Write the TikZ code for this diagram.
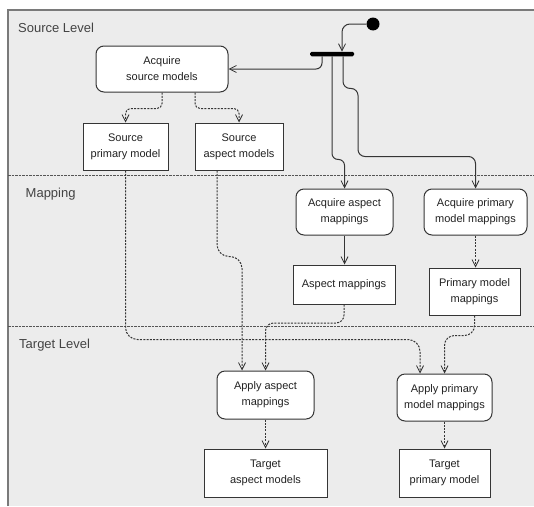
\documentclass[tikz,border=0pt]{standalone}
\usepackage{fontspec}
\setmainfont{Liberation Sans}
\usetikzlibrary{arrows.meta,calc}

\definecolor{lanebg}{HTML}{ECECEC}
\definecolor{frameline}{HTML}{7A7A7A}
\definecolor{inkline}{HTML}{353535}
\definecolor{inktext}{HTML}{222222}
\definecolor{sepline}{HTML}{555555}

\tikzset{
  base/.style={draw=inkline, line width=1pt, fill=white, align=center,
    text=inktext, inner sep=2pt, font=\fontsize{11}{16}\selectfont},
  action/.style={base, rounded corners=8pt},
  objbox/.style={base},
  lanelabel/.style={anchor=west, text=inktext!85, inner sep=0pt,
    font=\fontsize{13}{15}\selectfont},
  separator/.style={draw=sepline, line width=1pt, dash pattern=on 2.5pt off 1pt},
  tip/.style={-{Straight Barb[length=7pt,width=7pt,line width=0.8pt]}},
  ctrl/.style={tip, draw=inkline, line width=1pt},
  objflow/.style={tip, draw=inkline, line width=1pt, dash pattern=on 2pt off 1.3pt},
}

\begin{document}
\begin{tikzpicture}[x=1pt,y=-1pt]
  % page area
  \useasboundingbox (0,0) rectangle (534,506);
  \fill[white] (0,0) rectangle (534,506);

  % swimlane frame
  \fill[lanebg] (8,10) rectangle (534,506);
  \draw[frameline, line width=1.3pt] (8,506) -- (8,10) -- (534,10);

  % lane separators
  \draw[separator] (8,175) -- (534,175);
  \draw[separator] (8,326) -- (534,326);

  % lane titles
  \node[lanelabel] (laneSrc) at (18,27.5) {Source Level};
  \node[lanelabel] (laneMap) at (25.5,194) {Mapping};
  \node[lanelabel] (laneTgt) at (19,345.5) {Target Level};

  % start node and fork bar
  \node[circle, fill=black, minimum size=13pt, inner sep=0pt] (init) at (373,24) {};
  \node[rectangle, fill=black, minimum width=44pt, minimum height=4.5pt,
        inner sep=0pt, rounded corners=1.5pt] (fork) at (332,54) {};

  % source level
  \node[action, minimum width=132pt, minimum height=46pt] (acqsrc) at (162,69)
    {Acquire\\source models};
  \node[objbox, minimum width=85pt, minimum height=47pt] (srcpri) at (125.5,146.5)
    {Source\\primary model};
  \node[objbox, minimum width=88pt, minimum height=47pt] (srcasp) at (239,146.5)
    {Source\\aspect models};

  % mapping level
  \node[action, minimum width=97pt, minimum height=46pt] (acqasp) at (344.5,212)
    {Acquire aspect\\mappings};
  \node[action, minimum width=103pt, minimum height=46pt] (acqpri) at (475.5,212)
    {Acquire primary\\model mappings};
  \node[objbox, minimum width=102pt, minimum height=39pt] (aspmap) at (344,284.5)
    {Aspect mappings};
  \node[objbox, minimum width=91pt, minimum height=47pt] (primap) at (474.5,291.5)
    {Primary model\\mappings};

  % target level
  \node[action, minimum width=97pt, minimum height=48pt] (applyasp) at (265.5,395)
    {Apply aspect\\mappings};
  \node[action, minimum width=95pt, minimum height=47pt] (applypri) at (444.5,397.5)
    {Apply primary\\model mappings};
  \node[objbox, minimum width=123pt, minimum height=48pt] (tgtasp) at (265.5,473)
    {Target\\aspect models};
  \node[objbox, minimum width=91pt, minimum height=48pt] (tgtpri) at (444.5,473)
    {Target\\primary model};

  % control flow from the start node through the fork
  \draw[ctrl, rounded corners=8pt] (init.west) -| ($(fork.north)+(10,0)$);
  \draw[ctrl, rounded corners=6pt] ($(fork.south)+(-10,0)$) |- (acqsrc.east);
  \draw[ctrl, rounded corners=6pt] (fork.south) -- ++(0,103) -| (acqasp.north);
  \draw[ctrl, rounded corners=7pt] ($(fork.south)+(11,0)$) -- ++(0,32)
      -- ++(15,0) |- ($(acqpri.north)+(0,-32)$) -- (acqpri.north);

  % acquiring source models
  \draw[objflow, rounded corners=5pt] (acqsrc.south) -- ++(0,16) -| (srcpri.north);
  \draw[objflow, rounded corners=5pt] ($(acqsrc.south)+(33,0)$) -- ++(0,16) -| (srcasp.north);

  % acquiring mappings
  \draw[ctrl] (acqasp.south) -- (acqasp.south |- aspmap.north);
  \draw[objflow] (acqpri.south) -- (acqpri.south |- primap.north);

  % inputs of the apply steps
  \draw[objflow, rounded corners=12pt] (srcpri.south)
      |- ($(applypri.north)+(-24.5,-34)$) -- ($(applypri.north)+(-24.5,0)$);
  \draw[objflow, rounded corners=12pt] ($(srcasp.south)+(-22,0)$) -- ++(0,86)
      -| ($(applyasp.north)+(-23.5,0)$);
  \draw[objflow, rounded corners=8pt] (aspmap.south) -- ++(0,18.5) -| (applyasp.north);
  \draw[objflow, rounded corners=10pt] (primap.south) -- ++(0,20) -| (applypri.north);

  % results of the apply steps
  \draw[objflow] (applyasp.south) -- (tgtasp.north);
  \draw[objflow] (applypri.south) -- (tgtpri.north);
\end{tikzpicture}
\end{document}
